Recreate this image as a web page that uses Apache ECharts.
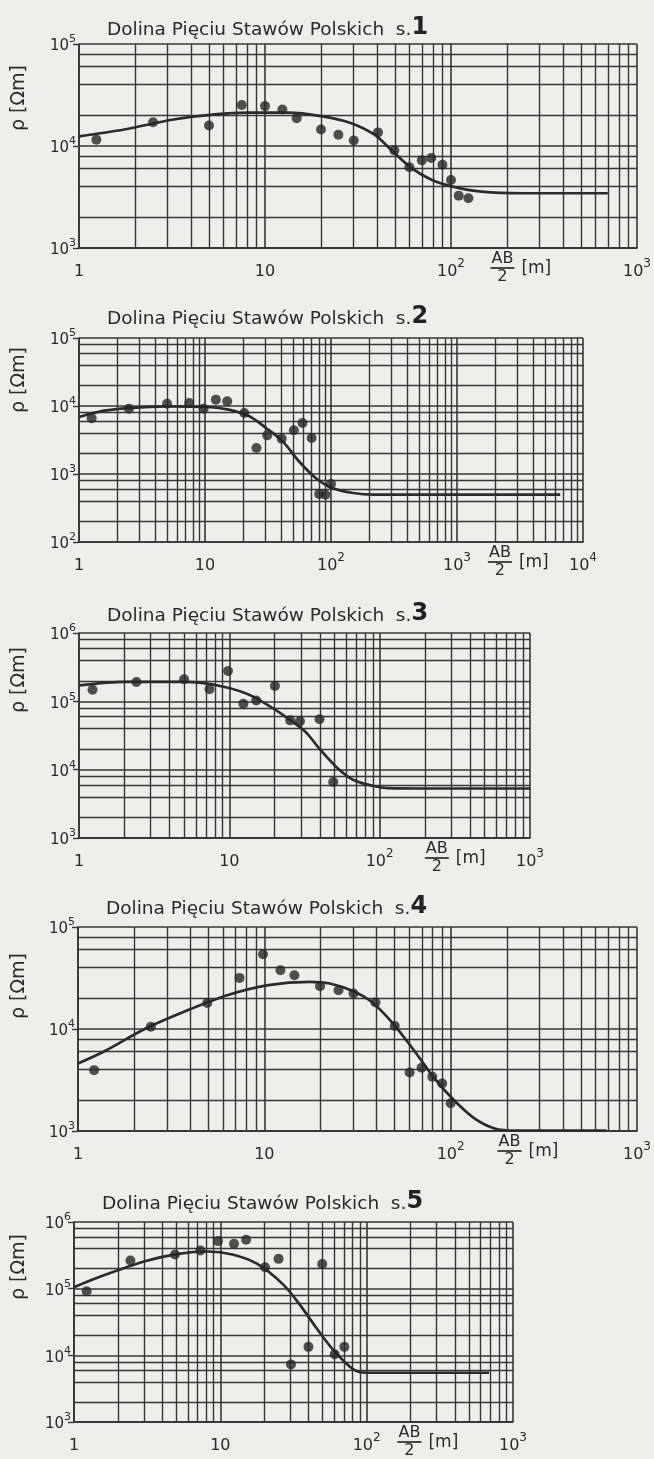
<!DOCTYPE html>
<html><head><meta charset="utf-8">
<script src="https://cdn.jsdelivr.net/npm/echarts@6/dist/echarts.min.js"></script>
<style>html,body{margin:0;padding:0;background:#eeeeec}#c{width:654px;height:1459px}</style>
</head><body><div id="c"></div><script>
// ---- text ----
const titleText = 'Dolina Pięciu Stawów Polskich';
const soundingNumbers = ['1', '2', '3', '4', '5'];
const yAxisName = 'ρ [Ωm]';

// ---- axis ranges (AB/2 in m, rho in Ohm m) ----
const xMaxes = [1e3, 1e4, 1e3, 1e3, 1e3];
const yMins = [1e3, 1e2, 1e3, 1e3, 1e3];
const yMaxes = [1e5, 1e5, 1e6, 1e5, 1e6];
const minorXMultipliers = [2, 3, 4, 5, 6, 7, 8, 9];
const minorYMultipliers = [2, 4, 6, 8];

// ---- sounding 1 ----
const s1PointsX = [1.24, 2.5, 5, 7.5, 10, 12.4, 14.8, 20, 24.8, 30, 40.5, 49.6, 59.8, 69.7, 78.3, 89.9, 100, 110, 124];
const s1PointsY = [11500, 17100, 15900, 25200, 24600, 22800, 18700, 14500, 12900, 11300, 13600, 9060, 6200, 7230, 7620, 6550, 4650, 3260, 3070];
const s1CurveX = [1, 1.75, 3.22, 5.35, 8, 13.4, 20, 28.6, 38.8, 47.6, 61.4, 79, 102, 146, 242, 469, 697];
const s1CurveY = [12450, 14500, 18200, 20400, 21200, 21200, 19600, 16900, 12900, 9200, 6070, 4650, 4000, 3570, 3440, 3440, 3440];

// ---- sounding 2 ----
const s2PointsX = [1.26, 2.49, 5, 7.5, 9.75, 12.2, 15, 20.5, 25.6, 31.2, 40.6, 50.7, 59.4, 70.2, 80.5, 90.2, 100];
const s2PointsY = [6600, 9140, 10800, 11100, 9140, 12400, 11700, 7890, 2410, 3700, 3310, 4390, 5620, 3380, 508, 497, 713];
const s2CurveX = [1, 1.58, 2.49, 4.93, 10.5, 15.4, 22.5, 30.5, 41.4, 55.6, 75.6, 102, 150, 219, 1000, 6600];
const s2CurveY = [6900, 8530, 9330, 9880, 9660, 8830, 7050, 4750, 3020, 1540, 873, 622, 525, 497, 497, 497];

// ---- sounding 3 ----
const s3PointsX = [1.23, 2.41, 5, 7.38, 9.8, 12.4, 15.1, 20.1, 25.4, 29.5, 39.8, 49.1];
const s3PointsY = [148000, 192000, 210000, 150000, 278000, 92500, 103000, 168000, 52700, 51000, 54600, 6600];
const s3CurveX = [1, 2.02, 4.93, 9, 14.5, 31.1, 40.4, 52.5, 67, 91, 113, 200, 1000];
const s3CurveY = [171000, 192000, 192000, 165000, 116000, 38000, 19400, 10500, 7050, 5760, 5370, 5300, 5300];

// ---- sounding 4 ----
const s4PointsX = [1.22, 2.46, 4.94, 7.36, 9.84, 12.2, 14.5, 19.9, 25, 30.1, 39.5, 50.1, 60.2, 69.8, 79.7, 90, 100];
const s4PointsY = [3950, 10500, 18000, 31700, 54000, 37700, 33600, 26200, 24000, 22300, 18200, 10700, 3750, 4170, 3400, 2930, 1870];
const s4CurveX = [1, 1.37, 2.28, 3.79, 6.32, 10.5, 17.5, 22.5, 30.7, 37.6, 48.3, 62.5, 80.6, 104, 134, 172, 222, 684];
const s4CurveY = [4590, 5980, 10000, 15000, 21400, 26900, 29000, 27900, 23100, 18500, 11700, 6440, 3400, 2010, 1330, 1060, 1010, 1010];

// ---- sounding 5 ----
const s5PointsX = [1.22, 2.43, 4.9, 7.31, 9.63, 12.4, 15, 20.2, 25, 30.4, 40, 49.7, 60.5, 70.4];
const s5PointsY = [91200, 264000, 326000, 374000, 517000, 471000, 542000, 210000, 280000, 7310, 13400, 235000, 10400, 13400];
const s5CurveX = [1, 1.58, 3.05, 5.17, 8.17, 12.1, 17.9, 26.7, 34.7, 45.1, 58.6, 81.1, 100, 218, 686];
const s5CurveY = [105000, 157000, 258000, 333000, 361000, 326000, 235000, 117000, 58700, 26100, 12300, 6150, 5480, 5480, 5480];

// x position (in AB/2 units) of the "AB/2 [m]" axis caption per panel
const unitCaptionX = [189, 2190, 240, 207, 196];

const pointsX = [s1PointsX, s2PointsX, s3PointsX, s4PointsX, s5PointsX];
const pointsY = [s1PointsY, s2PointsY, s3PointsY, s4PointsY, s5PointsY];
const curveX = [s1CurveX, s2CurveX, s3CurveX, s4CurveX, s5CurveX];
const curveY = [s1CurveY, s2CurveY, s3CurveY, s4CurveY, s5CurveY];

// ---- layout ----
const layout = [
  {left: 79, top: 44, width: 568, height: 204, titleY: 29, titleX: 102, nameY: 98},
  {left: 79, top: 338, width: 504, height: 204, titleY: 318, titleX: 102, nameY: 380},
  {left: 79, top: 633, width: 451, height: 205, titleY: 615, titleX: 102, nameY: 680},
  {left: 78, top: 927, width: 566, height: 204, titleY: 908, titleX: 101, nameY: 986},
  {left: 74, top: 1222, width: 439, height: 200, titleY: 1203, titleX: 97, nameY: 1267}
];

const INK = '#363636';
const FONT = 'DejaVu Sans';
const zip = (a, b) => a.map((v, i) => [v, b[i]]);

function powLabel(v) {
  const e = Math.round(Math.log10(v));
  if (e === 0) return '{b|1}';
  if (e === 1) return '{b|10}';
  return '{b|10}{s|' + e + '}';
}
const richY = {
  b: {fontSize: 15, fontFamily: FONT, color: '#2a2a2a', lineHeight: 20, verticalAlign: 'bottom'},
  s: {fontSize: 11, fontFamily: FONT, color: '#2a2a2a', lineHeight: 20, verticalAlign: 'top'}
};
const richX = {
  b: {fontSize: 16, fontFamily: FONT, color: '#2a2a2a', lineHeight: 22, verticalAlign: 'bottom'},
  s: {fontSize: 12, fontFamily: FONT, color: '#2a2a2a', lineHeight: 22, verticalAlign: 'top'}
};

function minorLines(i) {
  const out = [];
  const x0 = 1, x1 = xMaxes[i], y0 = yMins[i], y1 = yMaxes[i];
  for (let d = x0; d < x1; d *= 10) {
    minorXMultipliers.forEach(m => out.push({coords: [[m * d, y0], [m * d, y1]]}));
  }
  for (let d = y0; d < y1; d *= 10) {
    minorYMultipliers.forEach(m => out.push({coords: [[x0, m * d], [x1, m * d]]}));
  }
  return out;
}

const grids = [], xAxes = [], yAxes = [], series = [], titles = [];
layout.forEach((L, i) => {
  grids.push({left: L.left, top: L.top, width: L.width, height: L.height, containLabel: false});
  xAxes.push({
    type: 'log', logBase: 10, gridIndex: i, min: 1, max: xMaxes[i],
    axisLine: {show: true, lineStyle: {color: INK, width: 1.7}},
    axisTick: {show: false},
    splitLine: {show: true, lineStyle: {color: INK, width: 1.6}},
    axisLabel: {margin: 10, formatter: powLabel, rich: richX, showMinLabel: true, showMaxLabel: true}
  });
  yAxes.push({
    type: 'log', logBase: 10, gridIndex: i, min: yMins[i], max: yMaxes[i],
    axisLine: {show: true, lineStyle: {color: INK, width: 1.7}},
    axisTick: {show: true, length: 6, lineStyle: {color: INK, width: 1.4}},
    splitLine: {show: true, lineStyle: {color: INK, width: 1.6}},
    axisLabel: {margin: 3, formatter: powLabel, rich: richY, showMinLabel: true, showMaxLabel: true}
  });
  series.push({
    type: 'lines', coordinateSystem: 'cartesian2d', xAxisIndex: i, yAxisIndex: i,
    silent: true, z: 1, data: minorLines(i),
    lineStyle: {color: INK, width: 1.4, opacity: 1}
  });
  series.push({
    type: 'line', xAxisIndex: i, yAxisIndex: i, data: zip(curveX[i], curveY[i]),
    smooth: 0.3, showSymbol: false, z: 3, silent: true,
    lineStyle: {color: '#2b2b2b', width: 2.7}
  });
  series.push({
    type: 'scatter', xAxisIndex: i, yAxisIndex: i, data: zip(pointsX[i], pointsY[i]),
    symbol: 'circle', symbolSize: 10, z: 4, silent: true,
    itemStyle: {color: '#252525'}
  });
  titles.push({
    text: '{a|' + titleText + '  s.}{n|' + soundingNumbers[i] + '}',
    left: L.titleX, top: L.titleY - 20,
    textStyle: {fontWeight: 'normal', rich: {
      a: {fontSize: 18.5, fontFamily: FONT, fontWeight: 'normal', color: '#2a2a2a', verticalAlign: 'bottom', lineHeight: 26},
      n: {fontSize: 24, fontFamily: FONT, fontWeight: 'bold', color: '#222', verticalAlign: 'bottom', lineHeight: 26}
    }}
  });
});

const chart = echarts.init(document.getElementById('c'), null, {renderer: 'canvas'});
chart.setOption({
  backgroundColor: '#eeeeec',
  animation: false,
  title: titles,
  grid: grids, xAxis: xAxes, yAxis: yAxes, series: series
});

// captions: y-axis name and AB/2 [m]
const graphics = [];
layout.forEach((L, i) => {
  graphics.push({
    type: 'text', x: 19, y: L.nameY, rotation: Math.PI / 2,
    style: {text: yAxisName, fontSize: 19, fontFamily: FONT, fill: '#2a2a2a', align: 'center', verticalAlign: 'middle'}
  });
  const p = chart.convertToPixel({gridIndex: i}, [unitCaptionX[i], yMins[i]]);
  const cx = p[0], by = p[1] + 20;
  graphics.push({type: 'text', x: cx, y: by - 1, style: {text: 'AB', fontSize: 16, fontFamily: FONT, fill: '#2a2a2a', align: 'center', verticalAlign: 'bottom'}});
  graphics.push({type: 'line', shape: {x1: cx - 12, y1: by, x2: cx + 12, y2: by}, style: {stroke: '#2a2a2a', lineWidth: 1.7}});
  graphics.push({type: 'text', x: cx, y: by + 1, style: {text: '2', fontSize: 16, fontFamily: FONT, fill: '#2a2a2a', align: 'center', verticalAlign: 'top'}});
  graphics.push({type: 'text', x: cx + 19, y: by + 1, style: {text: '[m]', fontSize: 17, fontFamily: FONT, fill: '#2a2a2a', align: 'left', verticalAlign: 'middle'}});
});
chart.setOption({graphic: graphics});
</script></body></html>
